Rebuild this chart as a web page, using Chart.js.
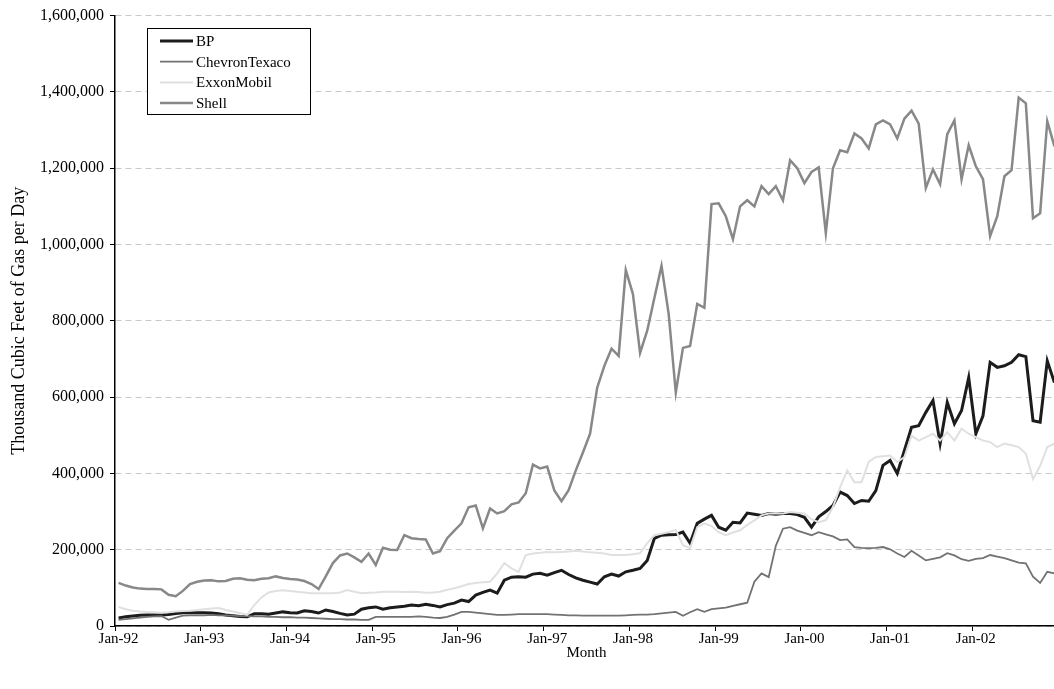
<!DOCTYPE html>
<html>
<head>
<meta charset="utf-8">
<title>Gas production by company</title>
<script src="https://cdn.jsdelivr.net/npm/chart.js@4.4.1/dist/chart.umd.min.js"></script>
<style>
  html, body { margin: 0; padding: 0; background: #fff; overflow: hidden; }
  #wrap { width: 1054px; height: 689px; overflow: hidden; }
</style>
</head>
<body>
<div id="wrap"><canvas id="gasChart" width="1058" height="689"></canvas></div>
<script>
// Categorias: meses Jan-92 .. Dec-02
const monthNames = ['Jan', 'Feb', 'Mar', 'Apr', 'May', 'Jun', 'Jul', 'Aug', 'Sep', 'Oct', 'Nov', 'Dec'];
const monthLabels = [];
for (let year = 1992; year <= 2002; year++) {
    monthNames.forEach(m => monthLabels.push(m + '-' + String(year).slice(2)));
}

// Series (thousand cubic feet of gas per day)
const bpValues = [
    21000, 24000, 26000, 28000, 29000, 29000, 29000, 30000, 33000, 35000,
    35000, 35000, 35000, 34000, 32000, 29000, 27000, 25000, 24000, 32000,
    32000, 31000, 34000, 37000, 35000, 34000, 40000, 38000, 34000, 42000,
    38000, 33000, 29000, 31000, 44000, 48000, 50000, 44000, 48000, 50000,
    52000, 55000, 53000, 57000, 54000, 50000, 56000, 60000, 68000, 64000,
    81000, 88000, 94000, 86000, 120000, 128000, 129000, 128000, 136000, 138000,
    133000, 140000, 146000, 135000, 126000, 120000, 115000, 110000, 129000, 136000,
    131000, 142000, 146000, 151000, 172000, 230000, 238000, 239000, 240000, 246000,
    217000, 269000, 280000, 290000, 259000, 251000, 272000, 270000, 296000, 293000,
    290000, 295000, 293000, 295000, 295000, 292000, 285000, 259000, 286000, 300000,
    316000, 351000, 342000, 321000, 329000, 327000, 355000, 421000, 434000, 400000,
    460000, 521000, 525000, 560000, 591000, 478000, 586000, 530000, 565000, 651000,
    504000, 551000, 691000, 678000, 682000, 691000, 711000, 706000, 538000, 534000,
    695000, 638000
];
const chevronValues = [
    16000, 18000, 20000, 22000, 24000, 25000, 26000, 16000, 22000, 27000,
    28000, 28000, 28000, 29000, 28000, 28000, 27000, 26000, 26000, 25000,
    25000, 24000, 24000, 23000, 23000, 22000, 22000, 21000, 20000, 19000,
    18000, 18000, 17000, 17000, 16000, 16000, 24000, 24000, 24000, 24000,
    24000, 24000, 25000, 24000, 22000, 21000, 24000, 30000, 37000, 37000,
    35000, 33000, 31000, 29000, 29000, 30000, 31000, 31000, 31000, 31000,
    31000, 30000, 29000, 28000, 28000, 27000, 27000, 27000, 27000, 27000,
    27000, 28000, 29000, 30000, 30000, 31000, 33000, 35000, 37000, 27000,
    36000, 44000, 37000, 44000, 46000, 48000, 53000, 57000, 61000, 116000,
    138000, 128000, 210000, 255000, 259000, 250000, 244000, 238000, 246000, 240000,
    235000, 225000, 227000, 207000, 205000, 204000, 205000, 207000, 201000, 190000,
    181000, 197000, 185000, 172000, 176000, 180000, 191000, 185000, 175000, 171000,
    176000, 178000, 186000, 182000, 178000, 172000, 166000, 164000, 129000, 113000,
    142000, 138000
];
const exxonValues = [
    50000, 44000, 40000, 38000, 37000, 36000, 35000, 36000, 38000, 39000,
    40000, 42000, 44000, 46000, 47000, 42000, 38000, 34000, 29000, 55000,
    75000, 88000, 92000, 94000, 92000, 90000, 88000, 86000, 86000, 86000,
    86000, 88000, 94000, 90000, 86000, 87000, 88000, 90000, 90000, 90000,
    89000, 90000, 89000, 87000, 88000, 90000, 95000, 99000, 104000, 110000,
    113000, 115000, 116000, 138000, 165000, 151000, 142000, 186000, 190000, 192000,
    194000, 193000, 194000, 195000, 197000, 195000, 193000, 192000, 190000, 186000,
    186000, 186000, 188000, 191000, 217000, 238000, 242000, 246000, 252000, 212000,
    204000, 259000, 269000, 262000, 246000, 238000, 245000, 251000, 265000, 277000,
    290000, 295000, 295000, 295000, 299000, 297000, 295000, 280000, 272000, 277000,
    312000, 364000, 408000, 377000, 377000, 430000, 443000, 445000, 447000, 430000,
    443000, 499000, 486000, 495000, 504000, 486000, 508000, 486000, 517000, 504000,
    495000, 486000, 482000, 469000, 478000, 474000, 469000, 452000, 385000, 420000,
    469000, 478000
];
const shellValues = [
    113000, 106000, 101000, 98000, 97000, 97000, 96000, 82000, 78000, 92000,
    110000, 116000, 119000, 120000, 117000, 118000, 124000, 125000, 121000, 120000,
    124000, 125000, 130000, 126000, 123000, 122000, 118000, 110000, 97000, 130000,
    165000, 185000, 190000, 180000, 168000, 190000, 160000, 205000, 200000, 199000,
    238000, 230000, 228000, 227000, 190000, 196000, 230000, 250000, 269000, 311000,
    316000, 256000, 308000, 295000, 301000, 319000, 324000, 348000, 423000, 413000,
    418000, 355000, 327000, 356000, 408000, 455000, 504000, 625000, 682000, 727000,
    708000, 933000, 870000, 716000, 774000, 860000, 944000, 818000, 612000, 729000,
    734000, 844000, 834000, 1106000, 1108000, 1074000, 1014000, 1100000, 1116000, 1100000,
    1153000, 1132000, 1153000, 1116000, 1221000, 1200000, 1161000, 1190000, 1202000, 1030000,
    1200000, 1247000, 1242000, 1291000, 1278000, 1252000, 1315000, 1325000, 1315000, 1278000,
    1330000, 1351000, 1317000, 1148000, 1197000, 1158000, 1289000, 1325000, 1171000, 1260000,
    1205000, 1171000, 1022000, 1074000, 1179000, 1195000, 1385000, 1370000, 1069000, 1082000,
    1323000, 1257000
];

const serifFont = '"Liberation Serif", "Times New Roman", serif';

// Leyenda dentro del area del grafico, con recuadro
const boxLegend = {
    id: 'boxLegend',
    afterDraw(chart) {
        const ctx = chart.ctx;
        const x = 147, y = 28, w = 163, h = 86;
        ctx.save();
        ctx.fillStyle = '#fff';
        ctx.fillRect(x, y, w, h);
        ctx.strokeStyle = '#000';
        ctx.lineWidth = 1;
        ctx.strokeRect(x + 0.5, y + 0.5, w, h);
        ctx.font = '15px ' + serifFont;
        ctx.textBaseline = 'middle';
        chart.data.datasets.forEach((ds, i) => {
            const ly = y + 13 + i * 20.7;
            ctx.strokeStyle = ds.borderColor;
            ctx.lineWidth = ds.borderWidth;
            ctx.beginPath();
            ctx.moveTo(x + 13, ly);
            ctx.lineTo(x + 46, ly);
            ctx.stroke();
            ctx.fillStyle = '#000';
            ctx.fillText(ds.label, x + 49, ly + 1);
        });
        ctx.restore();
    }
};

Chart.defaults.font.family = serifFont;
Chart.defaults.font.size = 15;
Chart.defaults.color = '#000';

const ctx = document.getElementById('gasChart').getContext('2d');
const gasChart = new Chart(ctx, {
    type: 'line',
    data: {
        labels: monthLabels,
        datasets: [
            { label: 'BP', data: bpValues, borderColor: '#1c1c1c', borderWidth: 3, order: 4 },
            { label: 'ChevronTexaco', data: chevronValues, borderColor: '#727272', borderWidth: 1.8, order: 3 },
            { label: 'ExxonMobil', data: exxonValues, borderColor: '#e0e0e0', borderWidth: 2, order: 2 },
            { label: 'Shell', data: shellValues, borderColor: '#888888', borderWidth: 2.5, order: 1 }
        ]
    },
    options: {
        responsive: false,
        animation: false,
        elements: {
            point: { radius: 0 },
            line: { tension: 0 }
        },
        layout: { padding: { left: 0, top: 14, right: 0, bottom: 0 } },
        plugins: {
            legend: { display: false },
            tooltip: { enabled: false }
        },
        scales: {
            x: {
                offset: true,
                grid: {
                    offset: true,
                    drawOnChartArea: false,
                    drawTicks: true,
                    tickLength: 5,
                    color: c => (c.index % 12 === 0 ? '#000' : 'rgba(0,0,0,0)'),
                    tickColor: c => (c.index % 12 === 0 ? '#000' : 'rgba(0,0,0,0)')
                },
                border: { display: true, color: '#000', width: 1.5 },
                ticks: {
                    autoSkip: false,
                    maxRotation: 0,
                    minRotation: 0,
                    padding: -1,
                    callback: (v, i) => (i % 12 === 0 ? monthLabels[i] : '')
                },
                title: {
                    display: true,
                    text: 'Month',
                    font: { size: 15 },
                    padding: { top: 0, bottom: 27 }
                },
                afterFit: scale => { scale.height = 63; }
            },
            y: {
                min: 0,
                max: 1600000,
                grid: {
                    color: '#c8c8c8',
                    lineWidth: 1,
                    tickColor: '#000',
                    tickLength: 5
                },
                border: { display: true, color: '#000', width: 1.5, dash: [6, 4] },
                ticks: {
                    stepSize: 200000,
                    padding: 6,
                    font: { size: 16 },
                    callback: v => String(v).replace(/\B(?=(\d{3})+(?!\d))/g, ',')
                },
                title: {
                    display: true,
                    text: 'Thousand Cubic Feet of Gas per Day',
                    font: { size: 18 },
                    padding: { top: 8, bottom: 0 }
                },
                afterFit: scale => { scale.width = 115; }
            }
        }
    },
    plugins: [boxLegend]
});
</script>
</body>
</html>
